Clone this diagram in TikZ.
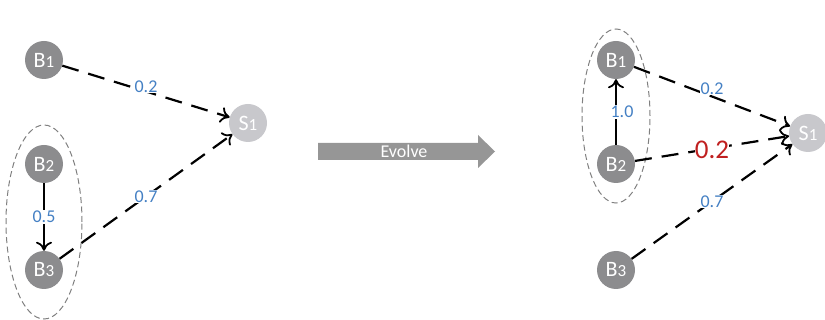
\documentclass[tikz,border=0pt]{standalone}
\usepackage{fontspec}
\setmainfont{Carlito}
\usetikzlibrary{arrows.meta}
\definecolor{nodegray}{RGB}{140,140,142}
\definecolor{sinkgray}{RGB}{200,200,204}
\definecolor{wblue}{RGB}{68,128,196}
\definecolor{wred}{RGB}{192,32,32}
\definecolor{evolvegray}{RGB}{150,150,150}
\tikzset{
  bnode/.style={circle, fill=nodegray, minimum size=38pt, inner sep=0pt, text=white, font=\fontsize{22}{22}\selectfont},
  snode/.style={bnode, fill=sinkgray},
  tip/.style={-{To[length=9pt,width=16pt,line width=1.8pt]}},
  flow/.style={draw=black, line width=2.2pt, dash pattern=on 17pt off 10pt, tip},
  link/.style={draw=black, line width=2.2pt, tip},
  group/.style={draw=gray, line width=1pt, dash pattern=on 6pt off 3.5pt},
  wlabel/.style={fill=white, inner sep=1pt, text=wblue, font=\fontsize{18}{18}\selectfont},
  rlabel/.style={wlabel, text=wred, font=\fontsize{27}{27}\selectfont},
}
\newcommand{\nm}[2]{#1{\fontsize{17}{17}\selectfont #2}}
\begin{document}
\begin{tikzpicture}[x=1pt,y=-1pt]
\useasboundingbox (0,0) rectangle (825,320);

% ---- before ----
\draw[group] (44,222) ellipse [x radius=38pt, y radius=97pt];
\node[bnode] (lb1) at (44,60) {\nm{B}{1}};
\node[bnode] (lb2) at (44,164) {\nm{B}{2}};
\node[bnode] (lb3) at (44,270) {\nm{B}{3}};
\node[snode] (ls1) at (248,123) {\nm{S}{1}};

\draw[flow] (lb1) -- node[wlabel, pos=0.5, yshift=5pt] {0.2} (ls1);
\draw[link] (lb2) -- node[wlabel, pos=0.5] {0.5} (lb3);
\draw[flow] (lb3) -- node[wlabel, pos=0.5] {0.7} (ls1);

% ---- evolve arrow ----
\fill[evolvegray] (318,143) -- (478,143) -- (478,135) -- (495,151.5)
  -- (478,168) -- (478,160) -- (318,160) -- cycle;
\node[text=white, font=\fontsize{18}{18}\selectfont] (evolvetext) at (404,151) {Evolve};

% ---- after ----
\draw[group] (616,116) ellipse [x radius=34pt, y radius=87pt];
\node[bnode] (rb1) at (616,60) {\nm{B}{1}};
\node[bnode] (rb2) at (616,164) {\nm{B}{2}};
\node[bnode] (rb3) at (616,270) {\nm{B}{3}};
\node[snode] (rs1) at (808,133) {\nm{S}{1}};

\draw[link] (rb2) -- node[wlabel, pos=0.5, xshift=6pt] {1.0} (rb1);
\draw[flow] (rb1) -- node[wlabel, pos=0.5, yshift=8pt] {0.2} (rs1);
\draw[flow] (rb2) -- node[rlabel, pos=0.5, inner sep=0pt, yshift=-1pt] {0.2} (rs1);
\draw[flow] (rb3) -- node[wlabel, pos=0.5] {0.7} (rs1);
\end{tikzpicture}
\end{document}
